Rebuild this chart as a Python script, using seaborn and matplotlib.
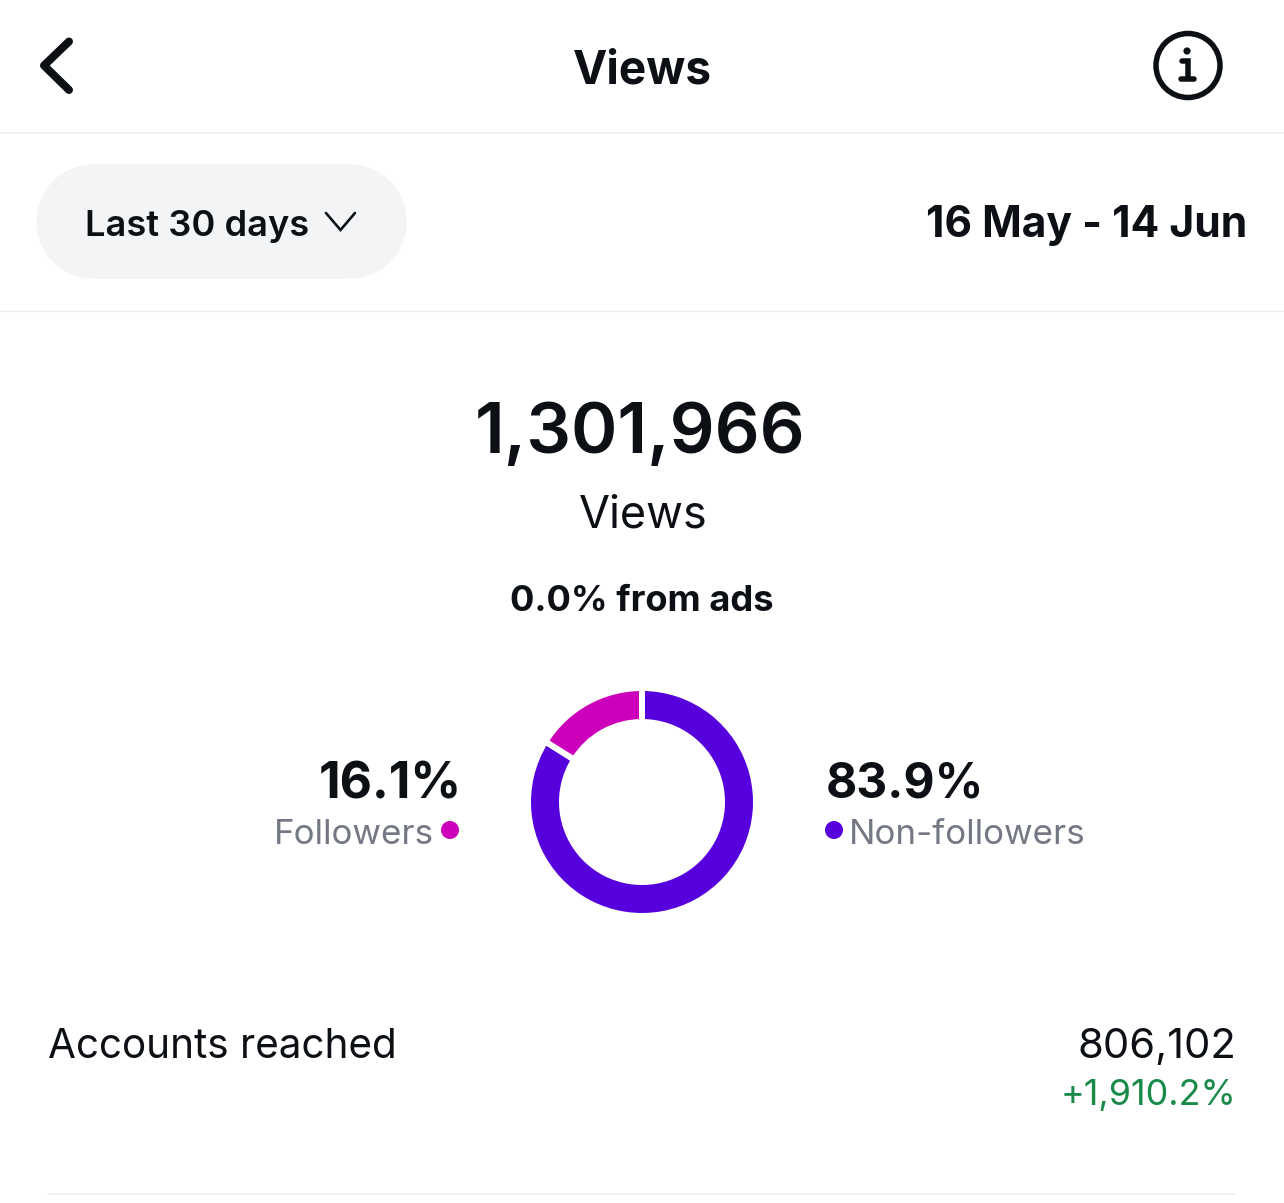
import matplotlib
matplotlib.use("Agg")
import matplotlib.pyplot as plt
from matplotlib.patches import Circle
import seaborn as sns

segments = ["Non-followers", "Followers"]
shares = [83.9, 16.1]
segment_colors = ["#5500DD", "#CC00BB"]
share_labels = ["83.9%", "16.1%"]
title = "Views"
period = "Last 30 days"
date_range = "16 May - 14 Jun"
total = "1,301,966"
total_label = "Views"
ads_note = "0.0% from ads"
metric_name = "Accounts reached"
metric_value = "806,102"
metric_change = "+1,910.2%"

W, H = 1284, 1203
INK = "#0C1014"
GREY = "#737884"
GREEN = "#1A8A4A"
RULE = "#EFEFF1"

sns.set_theme(style="white")
plt.rcParams["font.family"] = ["Inter", "DejaVu Sans"]

fig = plt.figure(figsize=(W / 100, H / 100), dpi=100, facecolor="white")
bg = fig.add_axes([0, 0, 1, 1])
bg.set_xlim(0, W)
bg.set_ylim(H, 0)
bg.axis("off")


def px(size):
    return size * 0.72


def label(x, y, s, size, weight="normal", color=INK, ha="left"):
    bg.text(x, y, s, fontsize=px(size), fontweight=weight, color=color,
            ha=ha, va="center_baseline")


# header
bg.plot([69, 44, 69], [41.5, 65.5, 90], color=INK, lw=px(8),
        solid_capstyle="round", solid_joinstyle="round")
label(642, 67, title, 46, "bold", ha="center")
bg.add_patch(Circle((1188, 65.5), 32, fill=False, ec=INK, lw=px(5.5)))
bg.add_patch(Circle((1187, 51), 3.6, color=INK, lw=0))
bg.plot([1182, 1187.5, 1187.5], [60.5, 60.5, 78], color=INK, lw=px(5.5),
        solid_capstyle="round", solid_joinstyle="miter")
bg.plot([1181, 1194], [79, 79], color=INK, lw=px(5.5), solid_capstyle="round")
bg.plot([0, W], [132.5, 132.5], color=RULE, lw=px(1.5))

# filter row
bg.plot([93, 348.5], [221, 221], color="#F3F4F6", lw=px(114.5),
        solid_capstyle="round")
label(85, 223, period, 36.2, "semibold")
bg.plot([326, 340.5, 355], [213, 230, 213], color=INK, lw=px(2.6),
        solid_capstyle="round", solid_joinstyle="miter")
label(1247, 221, date_range, 42.6, "bold", ha="right")
bg.plot([0, W], [310.5, 310.5], color=RULE, lw=px(1.2))

# headline numbers
label(640.5, 427, total, 70.5, "semibold", ha="center")
label(643, 511, total_label, 45, ha="center")
label(641.5, 598, ads_note, 36.3, "bold", ha="center")

# donut: the white edge eats 3 px on each side of the ring
cx, cy, r = 642, 802, 114
ax = fig.add_axes([(cx - r) / W, 1 - (cy + r) / H, 2 * r / W, 2 * r / H])
ax.pie(shares, colors=sns.color_palette(segment_colors), startangle=90,
       counterclock=False, radius=1,
       wedgeprops=dict(width=34 / r, edgecolor="white", linewidth=px(6)))
ax.set(xlim=(-1, 1), ylim=(-1, 1), aspect="equal")
ax.patch.set_alpha(0)

# donut labels
label(462, 780, share_labels[1], 50, "bold", ha="right")
label(434, 832, segments[1], 35, color=GREY, ha="right")
bg.add_patch(Circle((450, 830), 9, color=segment_colors[1], lw=0))
label(826, 780, share_labels[0], 48, "bold")
bg.add_patch(Circle((834, 830), 9, color=segment_colors[0], lw=0))
label(849, 832, segments[0], 35, color=GREY)

# metric row
label(48.5, 1043, metric_name, 40.5)
label(1236, 1043, metric_value, 41.8, ha="right")
label(1236.5, 1092, metric_change, 36, color=GREEN, ha="right")
bg.plot([48, 1236], [1193.5, 1193.5], color=RULE, lw=px(1.5))

fig.savefig("out.png", dpi=100, facecolor="white")
